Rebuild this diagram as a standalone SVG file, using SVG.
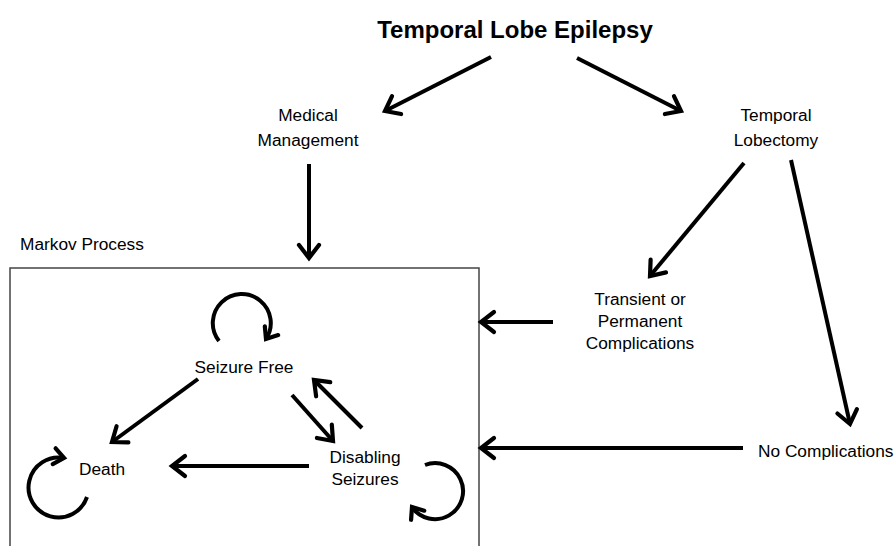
<svg xmlns="http://www.w3.org/2000/svg" width="895" height="546" viewBox="0 0 895 546">
<defs>
<style>
text{font-family:"Liberation Sans",Arial,sans-serif;fill:#000;font-size:17.3px}
.t{text-anchor:middle}
.title{font-weight:bold;font-size:24px;text-anchor:middle}
.c{fill:none;stroke:#000;stroke-width:4;stroke-linecap:butt}
</style>
<marker id="ah" markerUnits="userSpaceOnUse" markerWidth="30" markerHeight="30" refX="0" refY="0" viewBox="-20 -15 30 30" orient="auto" overflow="visible">
<path d="M-13,-10 L0,0 L-13,10" fill="none" stroke="#000" stroke-width="4.2" stroke-linecap="round" stroke-linejoin="miter"/>
</marker>
<marker id="ahs" markerUnits="userSpaceOnUse" markerWidth="30" markerHeight="30" refX="0" refY="0" viewBox="-20 -15 30 30" orient="auto" overflow="visible">
<path d="M-10,-8 L0,0 L-10,8" fill="none" stroke="#000" stroke-width="4.2" stroke-linecap="round" stroke-linejoin="miter"/>
</marker>
</defs>
<rect width="895" height="546" fill="#fff"/>

<g id="markov-box">
<rect x="10" y="268" width="469" height="300" fill="none" stroke="#444" stroke-width="1.5"/>
<text x="20" y="250">Markov Process</text>
</g>

<g id="n-title"><text class="title" x="515" y="38">Temporal Lobe Epilepsy</text></g>
<g id="n-medical"><text class="t" x="308" y="121">Medical</text><text class="t" x="308" y="146">Management</text></g>
<g id="n-lobectomy"><text class="t" x="776" y="121">Temporal</text><text class="t" x="776" y="146">Lobectomy</text></g>
<g id="n-transient"><text class="t" x="640" y="305">Transient or</text><text class="t" x="640" y="327">Permanent</text><text class="t" x="640" y="349">Complications</text></g>
<g id="n-nocomp"><text x="758" y="457">No Complications</text></g>
<g id="n-seizurefree"><text class="t" x="244" y="373">Seizure Free</text></g>
<g id="n-disabling"><text class="t" x="365" y="463">Disabling</text><text class="t" x="365" y="485">Seizures</text></g>
<g id="n-death"><text x="79" y="475">Death</text></g>

<g id="connectors">
<line class="c" x1="491" y1="57" x2="385" y2="111" marker-end="url(#ah)"/>
<line class="c" x1="577" y1="58" x2="681" y2="111" marker-end="url(#ah)"/>
<line class="c" x1="309" y1="164" x2="309" y2="258" marker-end="url(#ah)"/>
<line class="c" x1="744" y1="163" x2="650" y2="276" marker-end="url(#ah)"/>
<line class="c" x1="791" y1="160" x2="850" y2="424" marker-end="url(#ah)"/>
<line class="c" x1="553" y1="322" x2="481" y2="322" marker-end="url(#ah)"/>
<line class="c" x1="743" y1="448" x2="481" y2="448" marker-end="url(#ah)"/>
<line class="c" x1="198" y1="379" x2="112" y2="442" marker-end="url(#ah)"/>
<line class="c" x1="292" y1="395" x2="333" y2="441" marker-end="url(#ah)"/>
<line class="c" x1="362" y1="428" x2="314" y2="380" marker-end="url(#ah)"/>
<line class="c" x1="309" y1="466" x2="172" y2="466" marker-end="url(#ah)"/>
<path class="c" d="M219,341 A29,29 0 1 1 266,339" marker-end="url(#ahs)"/>
<path class="c" d="M425,465 A28,28 0 1 1 412,507" marker-end="url(#ahs)"/>
<path class="c" d="M87,497 A30,30 0 1 1 64,458" marker-end="url(#ahs)"/>
</g>
</svg>
